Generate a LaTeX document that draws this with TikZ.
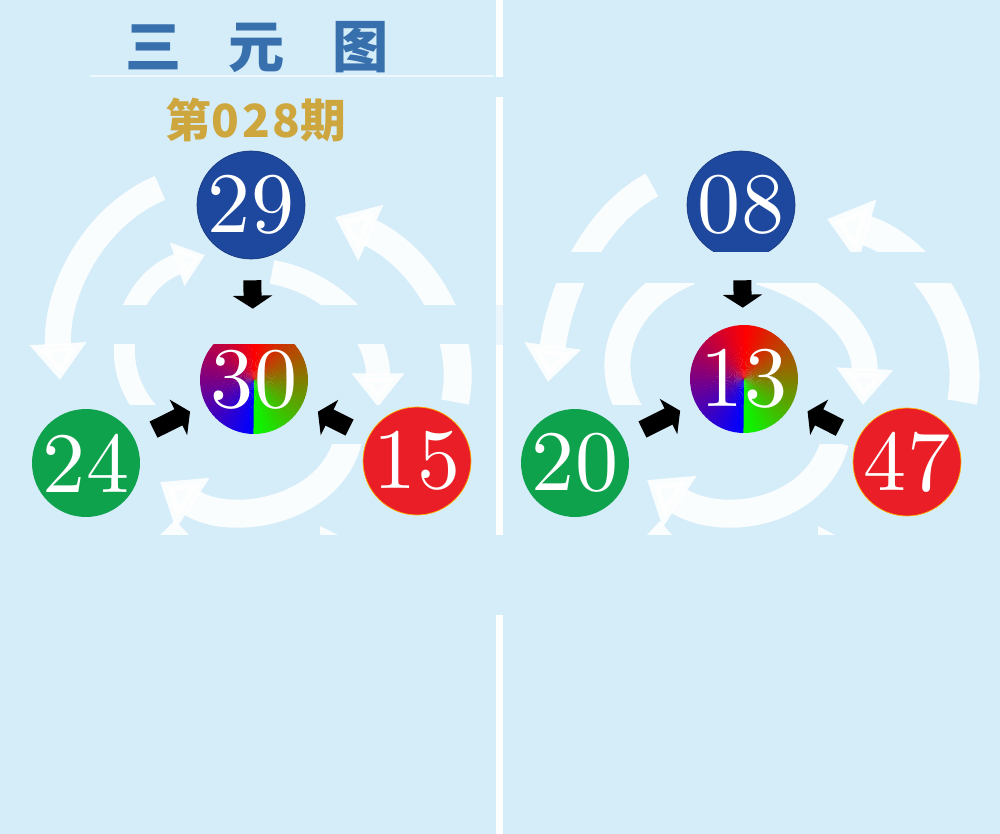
\documentclass[tikz,border=0pt]{standalone}
\usepackage{fontspec}
\newfontfamily\cjk{Noto Sans CJK SC}
\newfontfamily\ballfont{lmroman10-regular}[Extension=.otf]
\usetikzlibrary{arrows.meta}
\definecolor{sky}{RGB}{213,236,249}
\definecolor{ballblue}{RGB}{30,72,158}
\definecolor{ballgreen}{RGB}{15,162,76}
\definecolor{ballred}{RGB}{233,30,38}
\definecolor{titleblue}{RGB}{55,112,172}
\definecolor{gold}{RGB}{206,166,62}

\begin{document}
\begin{tikzpicture}[x=0.02cm, y=-0.02cm,
    ball/.style={circle, minimum size=2.16cm, inner sep=0pt, text=white,
      font=\ballfont\fontsize{49}{49}\selectfont},
    hub/.style={ball, path picture={
      \foreach \t in {0,5,...,175}{
        \pgfmathsetmacro\mixpct{\t/1.8}
        \fill[red!\mixpct!blue] (path picture bounding box.center)
          -- +({-90-\t}:1.3cm) -- +({-95.6-\t}:1.3cm) -- cycle;}
      \foreach \t in {180,185,...,355}{
        \pgfmathsetmacro\mixpct{(\t-180)/1.8}
        \fill[green!\mixpct!red] (path picture bounding box.center)
          -- +({-90-\t}:1.3cm) -- +({-95.6-\t}:1.3cm) -- cycle;}}},
    swoosh/.style={draw=white, line width=#1,
      -{Triangle[width=0pt 2.1, length=0pt 1.4]}},
    stub/.style={draw=white, line width=#1},
    feed/.style={draw=black, line width=0.36cm,
      -{Triangle[width=0.78cm, length=0.26cm]},
      shorten <=0.42cm, shorten >=0.34cm},
    gap/.style={fill=sky}]
    \useasboundingbox (0,0) rectangle (1000,834);
    \fill[sky] (0,0) rectangle (1000,834);

    %% White swirl, left panel
    \begin{scope}[opacity=0.9]
    \draw[swoosh=0.52cm] (160,188) .. controls (95,215) and (55,290) .. (60,380);
    \draw[swoosh=0.42cm] (150,414) .. controls (100,360) and (130,280) .. (205,255);
    \draw[swoosh=0.56cm] (455,402) .. controls (470,330) and (420,255) .. (335,217);
    \draw[swoosh=0.48cm] (272,272) .. controls (330,282) and (378,330) .. (378,407);
    \draw[swoosh=0.56cm] (348,440) .. controls (330,512) and (230,528) .. (160,482);
    \fill[white] (160,535) -- (175,520) -- (189,535) -- cycle;
    \fill[white] (320,526) -- (338,535) -- (320,535) -- cycle;

    %% White swirl, right panel
    \draw[swoosh=0.52cm] (652,185) .. controls (595,215) and (560,290) .. (548,382);
    \draw[stub=0.52cm] (690,272) .. controls (620,300) and (595,370) .. (640,425);
    \draw[swoosh=0.52cm] (760,272) .. controls (835,295) and (866,340) .. (863,405);
    \draw[swoosh=0.6cm] (962,402) .. controls (978,320) and (915,245) .. (827,219);
    \draw[swoosh=0.56cm] (835,442) .. controls (815,515) and (720,528) .. (647,480);
    \fill[white] (647,535) -- (660,521) -- (672,535) -- cycle;
    \fill[white] (818,526) -- (835,535) -- (818,535) -- cycle;
    \end{scope}

    %% Cut bands
    \fill[gap] (0,405) rectangle (494,444);
    \fill[gap] (505,405) rectangle (1000,444);
    \fill[gap] (0,535) rectangle (1000,834);

    %% Balls, left panel
    \node[ball, fill=ballblue, draw=ballblue!80!black] (b29) at (251,205) {29};
    \node[hub] (b30) at (254,380) {30};
    \node[ball, fill=ballgreen] (b24) at (86,463) {24};
    \node[ball, fill=ballred, draw=orange!60!yellow] (b15) at (417,461) {15};

    %% Balls, right panel
    \node[ball, fill=ballblue, draw=ballblue!80!black] (b08) at (741,205) {08};
    \node[hub] (b13) at (744,379) {13};
    \node[ball, fill=ballgreen] (b20) at (575,463) {20};
    \node[ball, fill=ballred, draw=orange!60!yellow] (b47) at (907,462) {47};

    \fill[gap] (98,305) rectangle (494,344);
    \fill[gap] (505,252) rectangle (1000,283);

    %% Divider
    \fill[white] (496,0) rectangle (503,77);
    \fill[white] (496,97) rectangle (503,305);
    \fill[white, opacity=0.5] (496,305) rectangle (503,345);
    \fill[white] (496,345) rectangle (503,535);
    \fill[white] (496,615) rectangle (503,834);
    \draw[white, opacity=0.6, line width=1.2pt] (90,76) -- (494,76);

    %% Black arrows into the hubs
    \foreach \a/\b in {b29/b30, b24/b30, b15/b30, b08/b13, b20/b13, b47/b13}
      \draw[feed] (\a) -- (\b);

    %% Titles
    \node[text=titleblue, font=\cjk\bfseries\fontsize{32}{32}\selectfont] (title)
      at (257,47) {三\hspace{0.95cm}元\hspace{0.95cm}图};
    \node[text=gold, font=\cjk\bfseries\fontsize{26}{26}\selectfont] (issue)
      at (256,120) {第0\hspace{0.06cm}2\hspace{0.06cm}8期};
\end{tikzpicture}
\end{document}
